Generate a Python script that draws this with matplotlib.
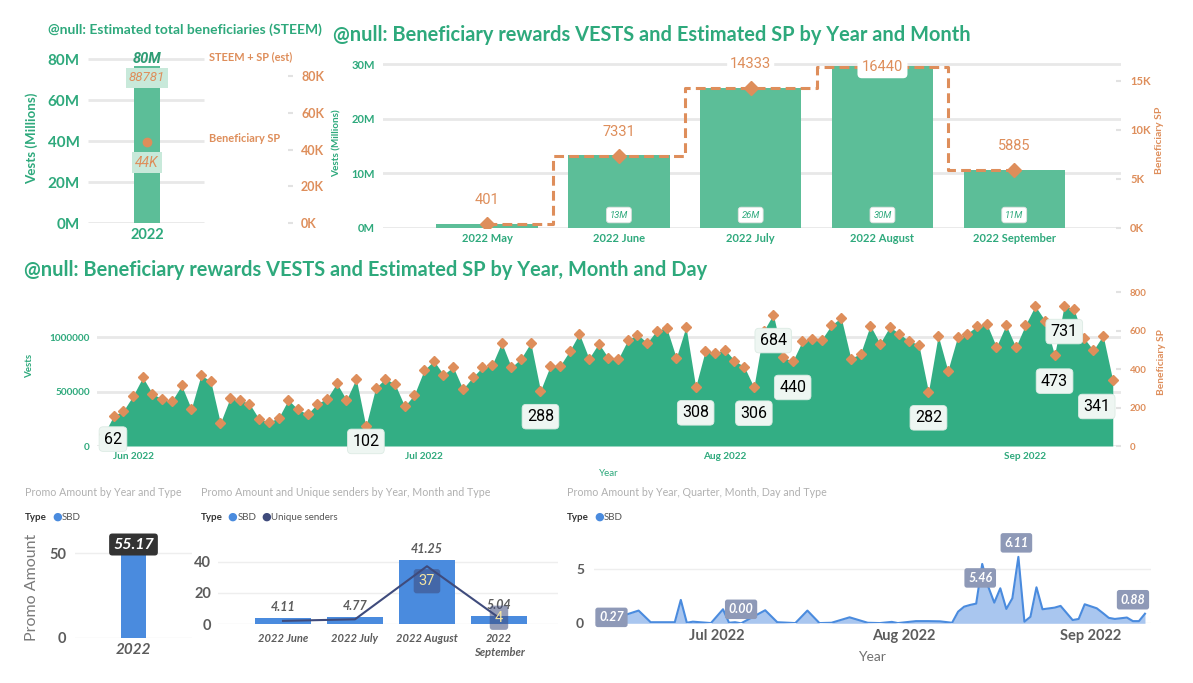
import numpy as np
import pandas as pd
import matplotlib
matplotlib.use("Agg")
import matplotlib.pyplot as plt
import matplotlib.dates as mdates

# ---------------- data ----------------
total_year = ["2022"]
total_vests_m = [76.4]          # bar height, millions of VESTS
total_vests_text = ["80M"]
total_sp = [44390]
total_steem_sp = [88781]

months = ["2022 May", "2022 June", "2022 July", "2022 August", "2022 September"]
month_vests_m = [0.73, 13.3, 25.7, 29.7, 10.6]
month_sp = [401, 7331, 14333, 16440, 5885]

day_first = "2022-05-29"
day_sp = [62, 157, 183,
          261, 357, 272, 244, 234, 315, 193, 368, 338, 120, 249, 240, 220, 139, 125,
          146, 240, 190, 166, 221, 247, 326, 240, 350, 102, 301, 350, 322, 207, 267,
          394, 443, 371, 411, 296, 357, 409, 420, 537, 409, 455, 537, 288, 415, 415,
          493, 584, 455, 533, 458, 451, 550, 580, 537, 601, 615, 458, 620, 308, 497, 484,
          502, 444, 413, 306, 597, 684, 462, 440, 545, 559, 554, 629, 667, 455, 481,
          627, 533, 619, 584, 545, 528, 282, 575, 392, 568, 584, 624, 636, 516, 629, 514,
          629, 728, 653, 473, 731, 711, 563, 498, 575, 341]
day_vests_k = [110, 278, 324,
               462, 632, 481, 432, 414, 558, 342, 651, 598, 212, 441, 425, 389, 246, 221,
               258, 425, 336, 294, 391, 437, 577, 425, 620, 181, 533, 620, 570, 366, 473,
               697, 784, 657, 727, 524, 632, 724, 743, 950, 724, 805, 950, 510, 735, 735,
               873, 1034, 805, 943, 811, 798, 974, 1027, 950, 1064, 1089, 811, 1097, 545, 880, 857,
               889, 786, 731, 542, 1057, 1211, 818, 779, 965, 989, 981, 1113, 1181, 805, 851,
               1110, 943, 1096, 1034, 965, 935, 499, 1018, 694, 1005, 1034, 1104, 1126, 913, 1113, 910,
               1113, 1289, 1156, 837, 1294, 1258, 997, 881, 1018, 604]
day_label_idx = [0, 27, 45, 61, 67, 69, 71, 85, 98, 99, 104]

promo_year = ["2022"]
promo_year_sbd = [55.17]
promo_months = ["2022 June", "2022 July", "2022 August", "2022\nSeptember"]
promo_month_sbd = [4.11, 4.77, 41.25, 5.04]
promo_month_senders = [2, 3, 37, 4]

promo_dates = ["2022-06-13", "2022-06-18", "2022-06-20", "2022-06-22", "2022-06-24", "2022-06-25",
               "2022-06-26", "2022-06-27", "2022-06-30",
               "2022-07-02", "2022-07-03", "2022-07-04", "2022-07-05", "2022-07-09", "2022-07-11",
               "2022-07-14", "2022-07-16", "2022-07-18", "2022-07-20", "2022-07-23", "2022-07-26",
               "2022-07-28", "2022-07-30", "2022-07-31",
               "2022-08-03", "2022-08-05", "2022-08-07", "2022-08-09", "2022-08-10", "2022-08-11",
               "2022-08-12", "2022-08-13", "2022-08-14", "2022-08-15", "2022-08-16", "2022-08-17",
               "2022-08-18", "2022-08-19", "2022-08-20", "2022-08-21", "2022-08-22", "2022-08-23",
               "2022-08-24", "2022-08-26", "2022-08-27", "2022-08-29", "2022-08-30", "2022-08-31",
               "2022-09-02", "2022-09-03", "2022-09-04", "2022-09-05", "2022-09-07", "2022-09-08",
               "2022-09-09", "2022-09-10"]
promo_sbd = [0.27, 1.17, 0.10, 0.10, 0.10, 2.15, 0.05, 0.15, 0.02,
             1.29, 0.05, 0.10, 0.00, 1.20, 0.10, 0.02, 1.17, 0.02, 0.05, 0.55, 0.05, 0.02, 0.13, 0.02,
             0.20, 0.20, 0.18, 0.05, 1.07, 1.53, 1.69, 1.81, 5.46, 3.37, 1.90, 3.22, 1.32, 2.30,
             6.11, 0.15, 0.60, 3.31, 1.29, 1.44, 1.60, 0.30, 0.40, 1.75,
             1.38, 0.95, 0.50, 0.40, 0.53, 0.20, 0.20, 0.88]
promo_label_dates = ["2022-06-13", "2022-07-05", "2022-08-14", "2022-08-20", "2022-09-10"]

# ---------------- style ----------------
W, H = 1193, 683
GREEN_T = "#2EA97C"
GREEN_BAR = "#5CBE98"
GREEN_AREA = "#33AE84"
ORANGE = "#DE8E5B"
GRID = "#E8E8E8"
BLUE = "#4A8BDE"
NAVY = "#3F4B7C"
GREY_T = "#B0B0B0"
GREY_L = "#5C5C5C"
SANS = "Lato"
DIN = "Roboto"

plt.rcParams["font.family"] = [SANS, "DejaVu Sans"]
fig = plt.figure(figsize=(W / 100, H / 100), dpi=100)


def px_axes(x0, y0, x1, y1):
    return fig.add_axes([x0 / W, 1 - y1 / H, (x1 - x0) / W, (y1 - y0) / H])


def ftext(x, y, s, **kw):
    return fig.text(x / W, 1 - y / H, s, **kw)


def clean(ax):
    for s in ax.spines.values():
        s.set_visible(False)
    ax.set_facecolor("none")


pt = 0.72  # points per pixel

# ================= top-left: totals =================
ftext(48, 30, "@null: Estimated total beneficiaries (STEEM)", color=GREEN_T,
      fontsize=10, fontweight="bold", va="center")
ax1 = px_axes(88, 50, 288, 223.3)
clean(ax1)
ax1.set_xlim(-0.59, 1.41)
ax1.set_ylim(0, 84.4)
ax1.hlines([0, 20, 40, 60, 80], -0.59, 0.57, color=GRID, lw=2, zorder=0)
ax1.bar([0], total_vests_m, width=0.26, color=GREEN_BAR, zorder=2)
ax1.set_yticks([0, 20, 40, 60, 80])
ax1.set_yticklabels([f"{v}M" for v in [0, 20, 40, 60, 80]])
ax1.set_xticks([0])
ax1.set_xticklabels(total_year)
ax1.tick_params(axis="y", length=0, pad=8 * pt, labelsize=11, labelcolor=GREEN_T)
ax1.tick_params(axis="x", length=0, pad=5 * pt, labelsize=10.5, labelcolor=GREEN_T)
for lab in ax1.get_xticklabels() + ax1.get_yticklabels():
    lab.set_fontweight("bold")
ax1.annotate(total_vests_text[0], (0, total_vests_m[0]), xytext=(0, 7), textcoords="offset pixels",
             ha="center", va="center", fontsize=10.5, fontstyle="italic", fontweight="bold",
             color="#2E9C74", family=DIN, zorder=5)
ftext(32, 138, "Vests (Millions)", rotation=90, color=GREEN_T, fontsize=9.6,
      fontweight="bold", ha="center", va="center")

ax1r = ax1.twinx()
clean(ax1r)
ax1r.set_ylim(0, 94.1)
ax1r.set_yticks([0, 20, 40, 60, 80])
ax1r.set_yticklabels([f"{v}K" for v in [0, 20, 40, 60, 80]])
ax1r.tick_params(axis="y", length=5 * pt, width=1.5, color="#E2E2E2", pad=8 * pt,
                 labelsize=9, labelcolor=ORANGE)
for lab in ax1r.get_yticklabels():
    lab.set_fontweight("bold")
ax1r.plot([0], [total_sp[0] / 1000], "o", color=ORANGE, ms=6, zorder=4)
ax1r.annotate(f"{total_steem_sp[0]}", (0, total_steem_sp[0] / 1000), xytext=(0, -18),
              textcoords="offset pixels", ha="center", va="center", fontsize=9.5,
              fontstyle="italic", color=ORANGE, family=DIN,
              bbox=dict(boxstyle="square,pad=0.25", fc="#C8E9DA", ec="none"))
ax1r.annotate(f"{total_sp[0] / 1000:.0f}K", (0, total_sp[0] / 1000), xytext=(0, -21),
              textcoords="offset pixels", ha="center", va="center", fontsize=10,
              fontstyle="italic", color=ORANGE, family=DIN,
              bbox=dict(boxstyle="square,pad=0.25", fc="#C8E9DA", ec="none"))
ax1r.text(0.62, total_steem_sp[0] / 1000 + 1.5, "STEEM + SP (est)", color=ORANGE, fontsize=7.9,
          fontweight="bold", va="center", ha="left")
ax1r.text(0.62, total_sp[0] / 1000 + 1.5, "Beneficiary SP", color=ORANGE, fontsize=7.9,
          fontweight="bold", va="center", ha="left")

# ================= top-right: by month =================
ftext(333, 35, "@null: Beneficiary rewards VESTS and Estimated SP by Year and Month",
      color=GREEN_T, fontsize=14.4, fontweight="bold", va="center")
ax2 = px_axes(383, 55, 1121, 228)
clean(ax2)
xm = np.arange(len(months))
ax2.set_xlim(-0.79, 4.81)
ax2.set_ylim(0, 31.65)
ax2.set_yticks([0, 10, 20, 30])
ax2.set_yticklabels([f"{v}M" for v in [0, 10, 20, 30]])
ax2.yaxis.grid(True, color=GRID, lw=2)
ax2.set_axisbelow(True)
ax2.bar(xm, month_vests_m, width=0.77, color=GREEN_BAR, zorder=2)
ax2.set_xticks(xm)
ax2.set_xticklabels(months)
ax2.tick_params(axis="y", length=0, pad=8 * pt, labelsize=8, labelcolor=GREEN_T)
ax2.tick_params(axis="x", length=0, pad=5 * pt, labelsize=8, labelcolor=GREEN_T)
for lab in ax2.get_xticklabels() + ax2.get_yticklabels():
    lab.set_fontweight("bold")
for i, v in enumerate(month_vests_m):
    if v >= 2:
        ax2.annotate(f"{v:.0f}M", (i, 0), xytext=(0, 13), textcoords="offset pixels",
                     ha="center", va="center", fontsize=6.8, fontstyle="italic",
                     color=GREEN_T, family=DIN, zorder=5,
                     bbox=dict(boxstyle="round,pad=0.35,rounding_size=0.3", fc="white",
                               ec="#E0E0E0", lw=0.6))
ftext(337, 143, "Vests (Millions)", rotation=90, color=GREEN_T, fontsize=7.2,
      fontweight="bold", ha="center", va="center")

ax2r = ax2.twinx()
clean(ax2r)
ax2r.set_ylim(0, 17.65)
ax2r.set_yticks([0, 5, 10, 15])
ax2r.set_yticklabels([f"{v}K" for v in [0, 5, 10, 15]])
ax2r.tick_params(axis="y", direction="in", length=5 * pt, width=1.5, color="#E2E2E2",
                 pad=9 * pt, labelsize=8, labelcolor=ORANGE)
for lab in ax2r.get_yticklabels():
    lab.set_fontweight("bold")
sp_k = np.array(month_sp) / 1000
ax2r.step(xm, sp_k, where="mid", color=ORANGE, lw=2.2, linestyle=(0, (3.2, 1.7)), zorder=3)
ax2r.plot(xm, sp_k, "D", color=ORANGE, ms=7.2, zorder=4)
for i, v in enumerate(month_sp):
    if v / 1000 > 15.5:
        ax2r.annotate(f"{v}", (i, v / 1000), xytext=(0, 0), textcoords="offset pixels",
                      ha="center", va="center", fontsize=10.5, color=ORANGE, family=DIN,
                      zorder=6, bbox=dict(boxstyle="round,pad=0.3,rounding_size=0.3",
                                          fc="white", ec="none"))
    else:
        ax2r.annotate(f"{v}", (i, v / 1000), xytext=(0, 24), textcoords="offset pixels",
                      ha="center", va="center", fontsize=10.5, color=ORANGE, family=DIN,
                      zorder=6, bbox=dict(boxstyle="round,pad=0.2", fc="white", ec="none"))
ftext(1160, 140, "Beneficiary SP", rotation=90, color=ORANGE, fontsize=7.5,
      fontweight="bold", ha="center", va="center")

# ================= middle: by day =================
ftext(24, 270, "@null: Beneficiary rewards VESTS and Estimated SP by Year, Month and Day",
      color=GREEN_T, fontsize=14.4, fontweight="bold", va="center")
days = pd.date_range(day_first, periods=len(day_sp), freq="D")
dnum = mdates.date2num(days)
ax3 = px_axes(97, 290, 1121, 446)
clean(ax3)
ax3.set_xlim(dnum[0] - 0.72, dnum[0] + 104.85)
ax3.set_ylim(0, 1.435e6)
ax3.set_yticks([0, 500000, 1000000])
ax3.set_yticklabels(["0", "500000", "1000000"])
ax3.yaxis.grid(True, color=GRID, lw=2)
ax3.set_axisbelow(True)
ax3.fill_between(dnum, np.array(day_vests_k) * 1000, color=GREEN_AREA, lw=0, zorder=2)
month_starts = mdates.date2num(pd.to_datetime(["2022-06-01", "2022-07-01", "2022-08-01", "2022-09-01"]))
ax3.set_xticks(month_starts)
ax3.set_xticklabels(["Jun 2022", "Jul 2022", "Aug 2022", "Sep 2022"])
ax3.tick_params(axis="y", length=0, pad=7 * pt, labelsize=7.2, labelcolor=GREEN_T)
ax3.tick_params(axis="x", length=0, pad=6 * pt, labelsize=7.2, labelcolor=GREEN_T)
for lab in ax3.get_xticklabels() + ax3.get_yticklabels():
    lab.set_fontweight("bold")
ftext(30, 366, "Vests", rotation=90, color=GREEN_T, fontsize=7, fontweight="bold",
      ha="center", va="center")
ftext(609, 473, "Year", color=GREEN_T, fontsize=7, ha="center", va="center")

ax3r = ax3.twinx()
clean(ax3r)
ax3r.set_ylim(0, 812)
ax3r.set_yticks([0, 200, 400, 600, 800])
ax3r.tick_params(axis="y", direction="in", length=5 * pt, width=1.5, color="#E2E2E2",
                 pad=9 * pt, labelsize=7, labelcolor=ORANGE)
for lab in ax3r.get_yticklabels():
    lab.set_fontweight("bold")
ax3r.plot(dnum, day_sp, "D", color=ORANGE, ms=5.4, zorder=4)
for i in day_label_idx:
    dx, dy = 0, -26
    if i == 0:
        dx, dy = 9, -5
    elif i == 27:
        dy = -15
    elif i == len(day_sp) - 1:
        dx = -16
    ax3r.annotate(f"{day_sp[i]}", (dnum[i], day_sp[i]), xytext=(dx, dy),
                  textcoords="offset pixels", ha="center", va="center", fontsize=11.5,
                  color="black", family=DIN, zorder=6,
                  bbox=dict(boxstyle="round,pad=0.3,rounding_size=0.25", fc="#EEF6F2",
                            ec="#DCEBE4", lw=0.6))
ftext(1161, 362, "Beneficiary SP", rotation=90, color=ORANGE, fontsize=7.3,
      fontweight="bold", ha="center", va="center")

# ================= bottom-left: promo by year =================
ftext(25, 493, "Promo Amount by Year and Type", color=GREY_T, fontsize=7.7, va="center")
ftext(25, 517, "Type", color="#333333", fontsize=7, fontweight="bold", va="center")
ftext(57, 517, "\u25CF", color=BLUE, fontsize=8, ha="center", va="center", family="DejaVu Sans")
ftext(62, 517, "SBD", color="#555555", fontsize=7, va="center")
ax4 = px_axes(75, 535, 192, 637.7)
clean(ax4)
ax4.set_xlim(-0.585, 0.585)
ax4.set_ylim(0, 60.8)
ax4.set_yticks([0, 50])
ax4.yaxis.grid(True, color="#EEEEEE", lw=1)
ax4.set_axisbelow(True)
ax4.bar([0], promo_year_sbd, width=0.25, color=BLUE, zorder=2)
ax4.set_xticks([0])
ax4.set_xticklabels(promo_year)
ax4.tick_params(axis="y", length=0, pad=9 * pt, labelsize=10.5, labelcolor=GREY_L)
ax4.tick_params(axis="x", length=0, pad=5 * pt, labelsize=11, labelcolor=GREY_L)
for lab in ax4.get_yticklabels():
    lab.set_fontweight("bold")
for lab in ax4.get_xticklabels():
    lab.set_fontweight("bold")
    lab.set_fontstyle("italic")
ax4.annotate(f"{promo_year_sbd[0]:.2f}", (0, promo_year_sbd[0]), xytext=(0, 0),
             textcoords="offset pixels", ha="center", va="center", fontsize=11.5,
             fontweight="bold", fontstyle="italic", color="white", zorder=5,
             bbox=dict(boxstyle="round,pad=0.25,rounding_size=0.2", fc="#333333", ec="none"))
ftext(32, 587, "Promo Amount", rotation=90, color="#7A7A7A", fontsize=11.5,
      ha="center", va="center")

# ================= bottom-middle: promo by month =================
ftext(201, 493, "Promo Amount and Unique senders by Year, Month and Type", color=GREY_T,
      fontsize=7.7, va="center")
ftext(201, 517, "Type", color="#333333", fontsize=7, fontweight="bold", va="center")
ftext(232, 517, "\u25CF", color=BLUE, fontsize=8, ha="center", va="center", family="DejaVu Sans")
ftext(238, 517, "SBD", color="#555555", fontsize=7, va="center")
ftext(266, 517, "\u25CF", color=NAVY, fontsize=8, ha="center", va="center", family="DejaVu Sans")
ftext(271, 517, "Unique senders", color="#555555", fontsize=7, va="center")
ax5 = px_axes(218, 545, 558, 624)
clean(ax5)
xp = np.arange(len(promo_months))
ax5.set_xlim(-0.903, 3.82)
ax5.set_ylim(0, 50.6)
ax5.set_yticks([0, 20, 40])
ax5.yaxis.grid(True, color="#EEEEEE", lw=1)
ax5.set_axisbelow(True)
ax5.bar(xp, promo_month_sbd, width=0.78, color=BLUE, zorder=2)
ax5.plot(xp, promo_month_senders, color=NAVY, lw=1.5, zorder=3)
ax5.set_xticks(xp)
ax5.set_xticklabels(promo_months, va="top", linespacing=1.3)
ax5.tick_params(axis="y", length=0, pad=7 * pt, labelsize=10.5, labelcolor=GREY_L)
ax5.tick_params(axis="x", length=0, pad=9 * pt, labelsize=8, labelcolor=GREY_L)
for lab in ax5.get_yticklabels():
    lab.set_fontweight("bold")
for lab in ax5.get_xticklabels():
    lab.set_fontweight("bold")
    lab.set_fontstyle("italic")
for i, v in enumerate(promo_month_sbd):
    ax5.annotate(f"{v:.2f}", (i, v), xytext=(0, 11), textcoords="offset pixels",
                 ha="center", va="center", fontsize=9, fontweight="bold",
                 fontstyle="italic", color=GREY_L, zorder=5)
for i, dy in [(2, -15), (3, 0)]:
    ax5.annotate(f"{promo_month_senders[i]}", (i, promo_month_senders[i]), xytext=(0, dy),
                 textcoords="offset pixels", ha="center", va="center", fontsize=10.5,
                 color="#F3E4A2", family=DIN, zorder=6,
                 bbox=dict(boxstyle="round,pad=0.35,rounding_size=0.2", fc=NAVY, alpha=0.55,
                           ec="none"))

# ================= bottom-right: promo by day =================
ftext(567, 493, "Promo Amount by Year, Quarter, Month, Day and Type", color=GREY_T,
      fontsize=7.7, va="center")
ftext(567, 517, "Type", color="#333333", fontsize=7, fontweight="bold", va="center")
ftext(599, 517, "\u25CF", color=BLUE, fontsize=8, ha="center", va="center", family="DejaVu Sans")
ftext(604, 517, "SBD", color="#555555", fontsize=7, va="center")
pdates = mdates.date2num(pd.to_datetime(promo_dates))
jul1 = mdates.date2num(pd.Timestamp("2022-07-01"))
ax6 = px_axes(594, 530, 1151, 623.3)
clean(ax6)
ax6.set_xlim(jul1 - 20.4, jul1 + 72.0)
ax6.set_ylim(0, 8.58)
ax6.set_yticks([0, 5])
ax6.yaxis.grid(True, color="#EEEEEE", lw=1)
ax6.set_axisbelow(True)
ax6.fill_between(pdates, promo_sbd, color="#A9C6EF", lw=0, zorder=2)
ax6.plot(pdates, promo_sbd, color=BLUE, lw=1.5, zorder=3)
ax6.set_xticks(month_starts[1:])
ax6.set_xticklabels(["Jul 2022", "Aug 2022", "Sep 2022"])
ax6.tick_params(axis="y", length=0, pad=10 * pt, labelsize=10, labelcolor=GREY_L)
ax6.tick_params(axis="x", length=0, pad=6 * pt, labelsize=10.5, labelcolor=GREY_L)
for lab in ax6.get_xticklabels() + ax6.get_yticklabels():
    lab.set_fontweight("bold")
ftext(872, 657, "Year", color="#707070", fontsize=10, ha="center", va="center")
promo_offsets = [(3, 3), (0, 14), (-2, -14), (-2, 14), (-12, 14)]
for d, (dx, dy) in zip(promo_label_dates, promo_offsets):
    k = promo_dates.index(d)
    ax6.annotate(f"{promo_sbd[k]:.2f}", (pdates[k], promo_sbd[k]), xytext=(dx, dy),
                 textcoords="offset pixels", ha="center", va="center", fontsize=9,
                 fontweight="bold", fontstyle="italic", color="white", zorder=6,
                 bbox=dict(boxstyle="round,pad=0.3,rounding_size=0.2", fc="#8E99B7",
                           ec="none"))

fig.savefig("out.png", dpi=100)
